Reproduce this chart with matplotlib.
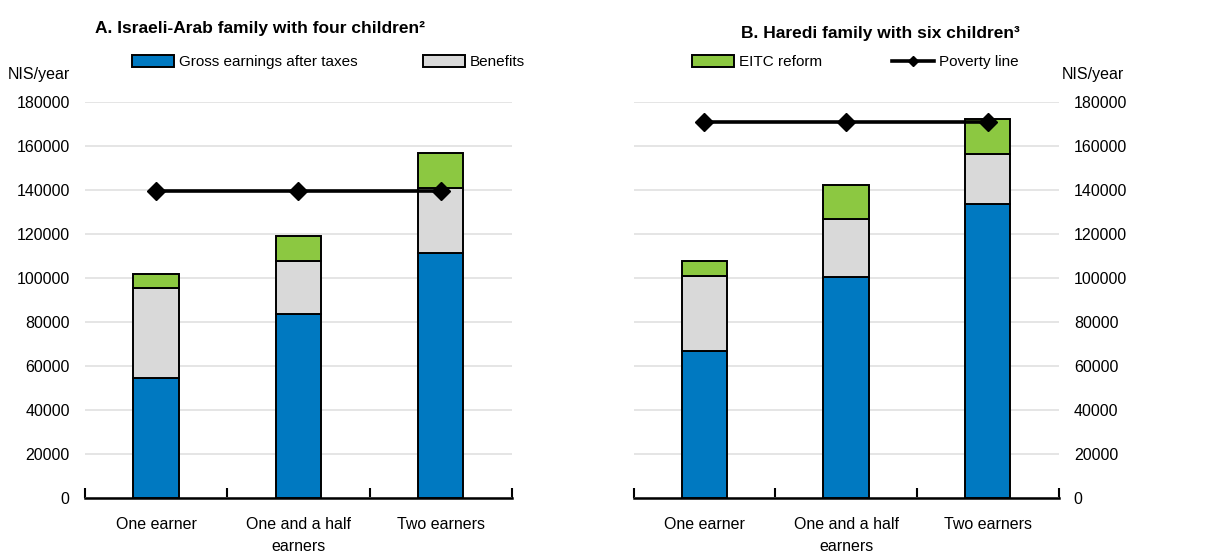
import numpy as np
import matplotlib
matplotlib.use('Agg')
import matplotlib.pyplot as plt
from matplotlib.patches import Patch
from matplotlib.lines import Line2D

plt.rcParams['font.family'] = ['Liberation Sans', 'DejaVu Sans']
plt.rcParams['font.size'] = 11

categories = ['One earner', 'One and a half\nearners', 'Two earners']

# A. Israeli-Arab family with four children
earnings_a = [54500, 83500, 111500]
benefits_a = [41000, 24200, 29500]
eitc_a = [6500, 11500, 16000]
poverty_a = [139700, 139700, 139700]

# B. Haredi family with six children
earnings_b = [66800, 100300, 133600]
benefits_b = [34300, 26500, 22600]
eitc_b = [6400, 15300, 16000]
poverty_b = [171000, 171000, 171000]

C_BLUE = '#0079c1'
C_GREY = '#d9d9d9'
C_GREEN = '#8cc841'


def draw_panel(ax, earn, ben, eitc, pov, right=False):
    x = np.arange(len(categories))
    earn = np.array(earn)
    ben = np.array(ben)
    eitc = np.array(eitc)
    kw = dict(width=0.32, edgecolor='black', linewidth=1.4, zorder=3)
    ax.bar(x, earn, color=C_BLUE, **kw)
    ax.bar(x, ben, bottom=earn, color=C_GREY, **kw)
    ax.bar(x, eitc, bottom=earn + ben, color=C_GREEN, **kw)
    ax.plot(x, pov, color='black', linewidth=2.6, marker='D', markersize=9.5, zorder=4)

    ax.set_xlim(-0.5, 2.5)
    ax.set_ylim(0, 180000)
    ax.set_yticks(np.arange(0, 180001, 20000))
    ax.grid(True, axis='y', color='#e5e5e5', linewidth=1.4, zorder=0)
    ax.set_axisbelow(True)
    for s in ['top', 'left', 'right']:
        ax.spines[s].set_visible(False)
    ax.spines['bottom'].set_linewidth(1.8)
    ax.set_xticks(x)
    ax.set_xticklabels(categories, fontsize=11.5, linespacing=1.55)
    ax.tick_params(axis='x', length=0, pad=14)
    ax.set_xticks([-0.5, 0.5, 1.5, 2.5], minor=True)
    ax.tick_params(axis='x', which='minor', direction='in', length=7, width=1.5)
    ax.tick_params(axis='y', length=0, pad=11, labelsize=11.5)
    if right:
        ax.yaxis.tick_right()
        ax.tick_params(axis='y', pad=11)


fig = plt.figure(figsize=(12.23, 5.54), dpi=100)
ax1 = fig.add_axes([0.0695, 0.101, 0.349, 0.715])
ax2 = fig.add_axes([0.518, 0.101, 0.3475, 0.715])

draw_panel(ax1, earnings_a, benefits_a, eitc_a, poverty_a)
draw_panel(ax2, earnings_b, benefits_b, eitc_b, poverty_b, right=True)

fig.text(0.213, 0.949, 'A. Israeli-Arab family with four children²',
         fontsize=12.5, fontweight='bold', ha='center', va='center')
fig.text(0.720, 0.940, 'B. Haredi family with six children³',
         fontsize=12.5, fontweight='bold', ha='center', va='center')
fig.text(0.006, 0.866, 'NIS/year', ha='left', va='center', fontsize=11.5)
fig.text(0.868, 0.866, 'NIS/year', ha='left', va='center', fontsize=11.5)

handles = [
    Patch(facecolor=C_BLUE, edgecolor='black', linewidth=1.4),
    Patch(facecolor=C_GREY, edgecolor='black', linewidth=1.4),
    Patch(facecolor=C_GREEN, edgecolor='black', linewidth=1.4),
    Line2D([0], [0], color='black', linewidth=2.6, marker='D', markersize=5),
]
labels = ['Gross earnings after taxes', 'Benefits', 'EITC reform', 'Poverty line']
# legend entries sit at uneven spacing in the original, so place them one by one
legend_x = [132, 423, 692, 892]
for h, lab, xp in zip(handles, labels, legend_x):
    fig.legend([h], [lab], loc='center left', bbox_to_anchor=(xp / 1223, 0.888),
               frameon=False, handlelength=2.75, handleheight=0.85,
               handletextpad=0.3, borderaxespad=0, borderpad=0)

fig.savefig('out.png', dpi=100)
